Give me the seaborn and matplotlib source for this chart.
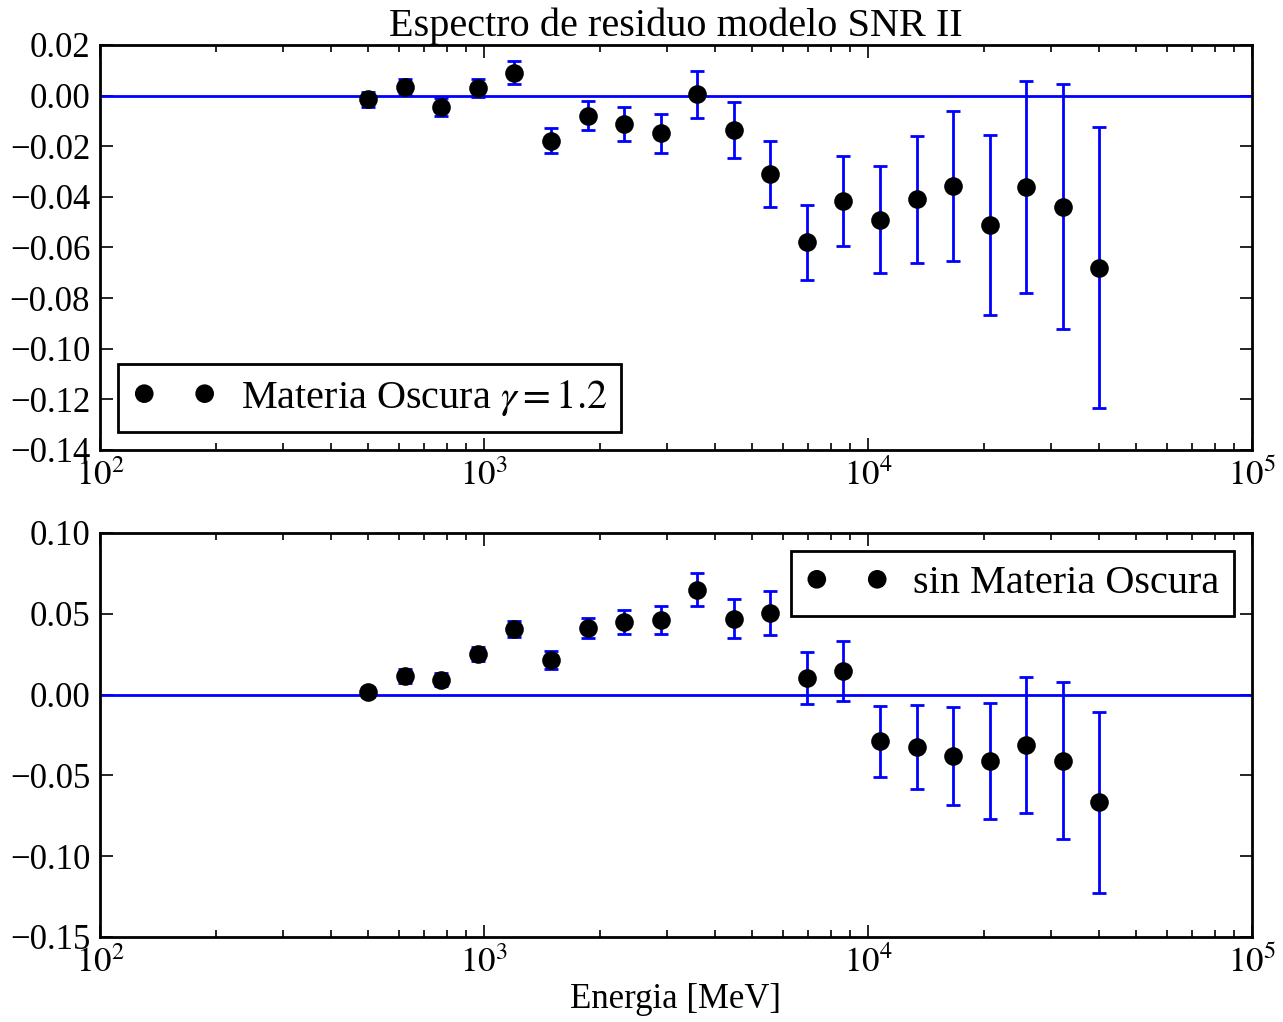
import numpy as np
import pandas as pd
import seaborn as sns
import matplotlib
matplotlib.use("Agg")
import matplotlib.pyplot as plt
from matplotlib.ticker import FuncFormatter, LogLocator, FixedLocator

energia = [500, 622, 775, 965, 1201, 1496, 1862, 2318, 2886, 3594, 4474,
           5571, 6936, 8636, 10752, 13387, 16668, 20752, 25838, 32170, 40054]

res_dm = [-0.0014, 0.0034, -0.0045, 0.0030, 0.0090, -0.0178, -0.0080, -0.0112,
          -0.0148, 0.0006, -0.0136, -0.0310, -0.0580, -0.0416, -0.0490, -0.0410,
          -0.0357, -0.0510, -0.0360, -0.0440, -0.0680]
err_dm = [0.0030, 0.0031, 0.0035, 0.0036, 0.0045, 0.0050, 0.0057, 0.0067,
          0.0077, 0.0093, 0.0109, 0.0129, 0.0149, 0.0178, 0.0210, 0.0252,
          0.0298, 0.0356, 0.0418, 0.0484, 0.0555]

res_nodm = [0.0016, 0.0115, 0.0092, 0.0250, 0.0405, 0.0212, 0.0410, 0.0450,
            0.0462, 0.0650, 0.0470, 0.0505, 0.0102, 0.0146, -0.0290, -0.0325,
            -0.0380, -0.0410, -0.0310, -0.0410, -0.0665]
err_nodm = [0.0030, 0.0042, 0.0042, 0.0045, 0.0050, 0.0055, 0.0062, 0.0075,
            0.0088, 0.0102, 0.0119, 0.0139, 0.0161, 0.0186, 0.0220, 0.0258,
            0.0305, 0.0360, 0.0420, 0.0486, 0.0560]

title = "Espectro de residuo modelo SNR II"
label_dm = r"Materia Oscura $\gamma = 1.2$"
label_nodm = "sin Materia Oscura"
xlabel = "Energia [MeV]"
yticks_top = [0.02, 0.00, -0.02, -0.04, -0.06, -0.08, -0.10, -0.12, -0.14]
yticks_bot = [0.10, 0.05, 0.00, -0.05, -0.10, -0.15]

sns.set_style("ticks")
plt.rcParams['font.family'] = ['Liberation Serif', 'DejaVu Serif']
plt.rcParams['mathtext.fontset'] = 'stix'
plt.rcParams['axes.linewidth'] = 2.0
plt.rcParams['axes.edgecolor'] = 'black'
plt.rcParams['axes.labelcolor'] = 'black'
plt.rcParams['text.color'] = 'black'
plt.rcParams['xtick.color'] = 'black'
plt.rcParams['ytick.color'] = 'black'
plt.rcParams['xtick.labelcolor'] = 'black'
plt.rcParams['ytick.labelcolor'] = 'black'
plt.rcParams['xtick.direction'] = 'in'
plt.rcParams['ytick.direction'] = 'in'

fig = plt.figure(figsize=(12.83, 10.22), dpi=100)
ax1 = fig.add_axes([0.0779, 0.5597, 0.8979, 0.3963])
ax2 = fig.add_axes([0.0779, 0.0832, 0.8979, 0.3953])

def fmt(v, pos):
    s = f"{abs(v):.2f}"
    return ("\u2212" + s) if v < -1e-9 else s

def draw(ax, y, err, label, yticks, ylim, loc):
    ax.axhline(0, color='blue', lw=2, zorder=1)
    ax.errorbar(energia, y, yerr=err, fmt='none', ecolor='blue', elinewidth=2,
                capsize=5, capthick=2, zorder=2)
    df = pd.DataFrame({'E': energia, 'r': y})
    sns.scatterplot(data=df, x='E', y='r', ax=ax, color='black', s=180,
                    edgecolor='black', linewidth=0, label=label, zorder=3)
    ax.set_xscale('log')
    ax.set_xlim(1e2, 1e5)
    ax.set_ylim(*ylim)
    ax.yaxis.set_major_locator(FixedLocator(yticks))
    ax.yaxis.set_major_formatter(FuncFormatter(fmt))
    ax.xaxis.set_major_locator(LogLocator(base=10, numticks=10))
    ax.xaxis.set_minor_locator(LogLocator(base=10, subs=np.arange(2, 10), numticks=20))
    ax.xaxis.set_major_formatter(FuncFormatter(lambda v, p: r"$10^{%d}$" % int(round(np.log10(v)))))
    ax.tick_params(which='both', direction='in', top=True, right=True, labelsize=25,
                   width=1.2, colors='black')
    ax.tick_params(which='major', length=9, pad=7)
    ax.tick_params(which='minor', length=5)
    ax.set_xlabel('')
    ax.set_ylabel('')
    leg = ax.legend(loc=loc, scatterpoints=2, scatteryoffsets=[0.5], fontsize=29,
                    frameon=True, fancybox=False, borderpad=0.35, handletextpad=0.6,
                    borderaxespad=0.45, handlelength=2.1)
    leg.get_frame().set_edgecolor('black')
    leg.get_frame().set_linewidth(2)
    leg.get_frame().set_alpha(1)
    for sp in ax.spines.values():
        sp.set_visible(True)
        sp.set_color('black')

draw(ax1, res_dm, err_dm, label_dm, yticks_top, (-0.14, 0.02), 'lower left')
draw(ax2, res_nodm, err_nodm, label_nodm, yticks_bot, (-0.15, 0.10), 'upper right')

ax1.set_title(title, fontsize=29, pad=4)
ax2.set_xlabel(xlabel, fontsize=25, labelpad=2, color='black')

fig.savefig("out.png", dpi=100)
